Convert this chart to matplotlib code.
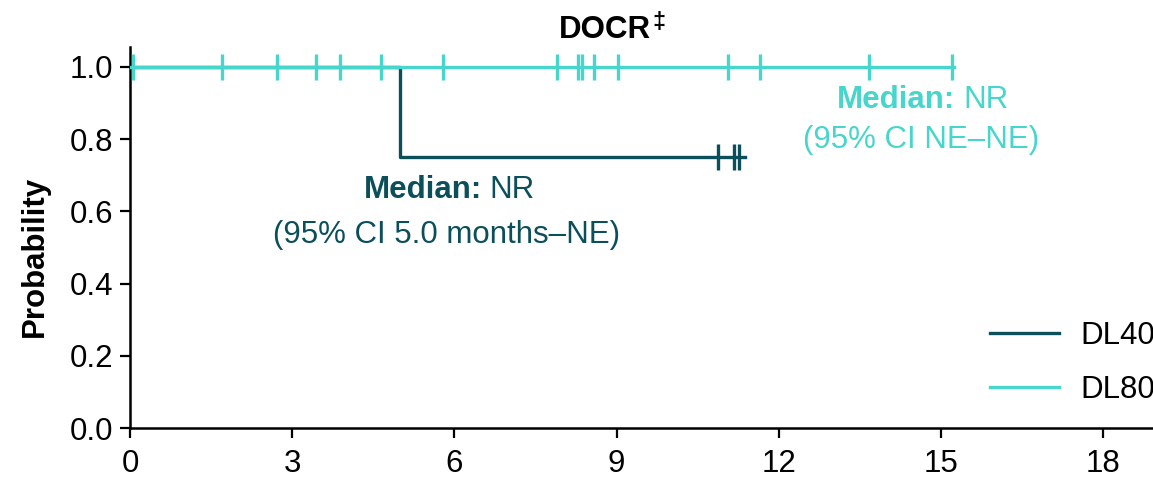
import matplotlib
matplotlib.use("Agg")
import matplotlib.pyplot as plt

plt.rcParams['font.family'] = ['Liberation Sans', 'DejaVu Sans']

# Data
dl40_step_t = [0, 5.0, 11.38]
dl40_step_p = [1.0, 0.75, 0.75]
dl40_cens_t = [10.87, 11.17, 11.26]
dl40_cens_p = [0.75, 0.75, 0.75]

dl80_step_t = [0, 15.25]
dl80_step_p = [1.0, 1.0]
dl80_cens_t = [0.05, 1.70, 2.72, 3.44, 3.88, 4.64, 5.79, 7.89, 8.29, 8.36,
               8.58, 9.02, 11.07, 11.65, 13.67, 15.20]
dl80_cens_p = [1.0] * len(dl80_cens_t)

xticks = [0, 3, 6, 9, 12, 15, 18]
yticks = [0.0, 0.2, 0.4, 0.6, 0.8, 1.0]

c40 = '#0b4f5b'
c80 = '#47d6cc'

fig = plt.figure(figsize=(11.53, 4.8), dpi=100)
ax = fig.add_axes([130/1153, 1-428/480, (1153-130)/1153, (428-47)/480])

ax.step(dl40_step_t, dl40_step_p, where='post', color=c40, lw=2.4, label='DL40', zorder=2)
ax.plot(dl40_cens_t, dl40_cens_p, ls='none', marker='|', ms=19, mew=2.4, color=c40, zorder=2)
ax.step(dl80_step_t, dl80_step_p, where='post', color=c80, lw=2.4, label='DL80', zorder=3)
ax.plot(dl80_cens_t, dl80_cens_p, ls='none', marker='|', ms=19, mew=2.4, color=c80, zorder=3)

ax.set_xlim(0, (1153-130)/54.06)
ax.set_ylim(0, (428-47)/361)
ax.set_xticks(xticks)
ax.set_xticklabels([str(x) for x in xticks])
ax.set_yticks(yticks)
ax.set_yticklabels([f"{y:.1f}" for y in yticks])
fs = 22.5
ax.tick_params(labelsize=fs, length=7, width=1.6, direction='out')
ax.tick_params(axis='x', pad=8)
ax.tick_params(axis='y', pad=5)
for s in ['top', 'right']:
    ax.spines[s].set_visible(False)
for s in ['left', 'bottom']:
    ax.spines[s].set_linewidth(1.8)
ax.set_ylabel('Probability', fontsize=fs, fontweight='bold')
ax.yaxis.set_label_coords(-0.078, 0.45)

# DL40 annotation
ax.text(6.52, 0.659, 'Median:', ha='right', va='center', fontsize=fs, fontweight='bold', color=c40)
ax.text(6.64, 0.659, 'NR', ha='left', va='center', fontsize=fs, color=c40)
ax.text(5.85, 0.535, '(95% CI 5.0 months\u2013NE)', ha='center', va='center', fontsize=fs, color=c40)
# DL80 annotation
ax.text(15.26, 0.909, 'Median:', ha='right', va='center', fontsize=fs, fontweight='bold', color=c80)
ax.text(15.42, 0.909, 'NR', ha='left', va='center', fontsize=fs, color=c80)
ax.text(14.63, 0.798, '(95% CI NE\u2013NE)', ha='center', va='center', fontsize=fs, color=c80)

fig.text(651/1153, 1-30/480, 'DOCR', ha='right', va='center', fontsize=fs, fontweight='bold')
fig.text(652/1153, 1-23/480, '\u2021', ha='left', va='center', fontsize=17, fontweight='bold')

leg = ax.legend(loc='upper left', bbox_to_anchor=(962/1153, 1-293/480),
                bbox_transform=fig.transFigure, frameon=False,
                fontsize=fs, handlelength=2.2, handletextpad=0.7, labelspacing=0.75)

fig.savefig('out.png', dpi=100)
